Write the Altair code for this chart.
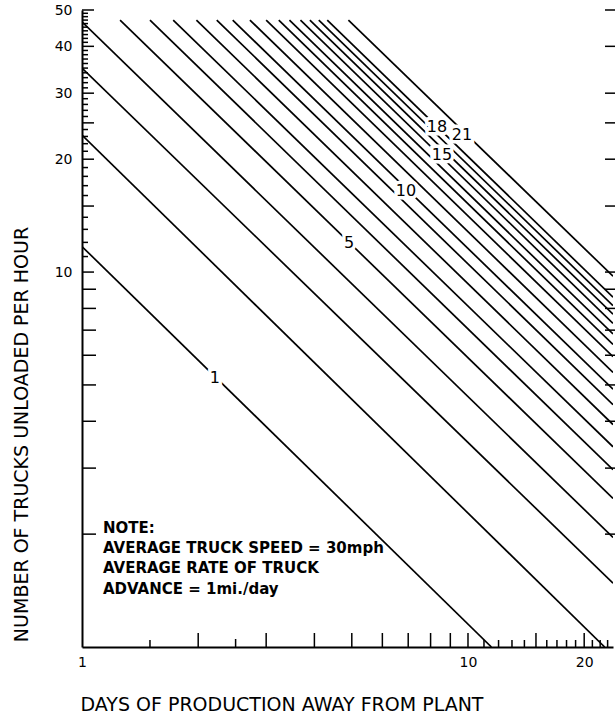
import altair as alt
import pandas as pd

FONT = "DejaVu Sans"

# ---- curve data: each family line drawn between two read-off endpoints ----
line_ids = ["1", "2", "3", "4", "5", "6", "7", "8", "9", "10",
            "11", "12", "13", "14", "15", "16", "17", "18", "21"]
x_start = [1.0, 1.0, 1.0, 1.0, 1.255, 1.50, 1.723, 1.979, 2.234, 2.457,
           2.723, 3.00, 3.234, 3.447, 3.681, 3.894, 4.106, 4.319, 4.90]
y_start = [11.7, 23.2, 35.0, 46.5, 47, 47, 47, 47, 47, 47,
           47, 47, 47, 47, 47, 47, 47, 47, 47]
x_end = [11.5, 22.6, 23.75, 23.75, 23.75, 23.75, 23.75, 23.75, 23.75, 23.75,
         23.75, 23.75, 23.75, 23.75, 23.75, 23.75, 23.75, 23.75, 23.75]
y_end = [1.0, 1.0, 1.48, 1.96, 2.49, 2.97, 3.42, 3.92, 4.43, 4.87,
         5.40, 5.95, 6.41, 6.84, 7.30, 7.72, 8.14, 8.57, 9.75]

# ---- curve labels ----
label_text = ["1", "5", "10", "15", "18", "21"]
label_x = [2.21, 4.92, 6.91, 8.56, 8.31, 9.65]
label_y = [5.21, 11.95, 16.5, 20.5, 24.4, 23.2]

# ---- note ----
note_lines = ["NOTE:", "AVERAGE TRUCK SPEED = 30mph", "AVERAGE RATE OF TRUCK", "ADVANCE = 1mi./day"]
note_x = [1.133, 1.133, 1.133, 1.133]
note_y = [2.077, 1.836, 1.624, 1.428]

# ---- axis ticks ----
y_label_values = [10, 20, 30, 40, 50]
x_label_values = [1, 10, 20]
left_long = [2, 3, 4, 5, 6, 7, 8, 9]
left_major = [10, 15, 20, 25, 30, 40, 50]
left_minor = [11, 12, 13, 14, 16, 17, 18, 19, 21, 22, 23, 24, 26, 27, 28, 29,
              31, 32, 33, 34, 35, 36, 37, 38, 39, 41, 42, 43, 44, 45, 46, 47, 48, 49]
right_ticks = [2, 3, 4, 5, 6, 7, 8, 9, 10, 15, 20, 25, 30, 40, 50]
bottom_long = [2, 3, 4, 5, 6, 7, 8, 9, 10, 15, 20]
bottom_mid = [2.5]
bottom_short = [1.5, 11, 12, 13, 14, 16, 17, 18, 19, 21, 22, 23]

W, H = 531, 637
X_TITLE = "DAYS OF PRODUCTION AWAY FROM PLANT"
Y_TITLE = "NUMBER OF TRUCKS UNLOADED PER HOUR"

xscale = alt.Scale(type="log", domain=[1, 23.75], nice=False)
yscale = alt.Scale(type="log", domain=[1, 50], nice=False)

X_AX = alt.Axis(values=x_label_values, format="d", ticks=False, grid=False,
                domain=True, domainColor="black", domainWidth=2,
                labelFont=FONT, labelFontSize=14, labelColor="black",
                labelPadding=8, labelFlush=False,
                title=X_TITLE, titleFont=FONT, titleFontSize=19, titleFontWeight="normal",
                titleColor="black", titleAlign="left", titleAnchor="start",
                titleX=-2, titleY=63, titleBaseline="alphabetic")
Y_AX = alt.Axis(values=y_label_values, format="d", ticks=False, grid=False,
                domain=True, domainColor="black", domainWidth=2,
                labelFont=FONT, labelFontSize=14, labelColor="black",
                labelPadding=10, labelFlush=False,
                title=Y_TITLE, titleFont=FONT, titleFontSize=19, titleFontWeight="normal",
                titleColor="black", titleX=-55, titleY=424,
                titleAlign="center", titleBaseline="alphabetic")


def X(field="x"):
    return alt.X(f"{field}:Q", scale=xscale, axis=X_AX, title=X_TITLE)


def Y(field="y"):
    return alt.Y(f"{field}:Q", scale=yscale, axis=Y_AX, title=Y_TITLE)


rows = []
for i, lid in enumerate(line_ids):
    rows.append({"line": lid, "x": x_start[i], "y": y_start[i], "o": 0})
    rows.append({"line": lid, "x": x_end[i], "y": y_end[i], "o": 1})
lines_df = pd.DataFrame(rows)

lines = alt.Chart(lines_df).mark_line(color="black", strokeWidth=1.7, clip=True).encode(
    x=X(), y=Y(), detail="line:N", order="o:Q")


def yrule(vals, x0, x1):
    return alt.Chart(pd.DataFrame({"y": vals})).mark_rule(color="black", strokeWidth=1.5).encode(
        y=Y(), x=alt.value(x0), x2=alt.value(x1))


def xrule(vals, length):
    return alt.Chart(pd.DataFrame({"x": vals})).mark_rule(color="black", strokeWidth=1.5).encode(
        x=X(), y=alt.value(H), y2=alt.value(H - length))


ticks = [
    yrule(left_long, 0, 14),
    yrule(left_major, 0, 12),
    yrule(left_minor, 0, 6),
    yrule(right_ticks, W - 8, W + 2),
    xrule(bottom_long, 14),
    xrule(bottom_mid, 8),
    xrule(bottom_short, 7),
]

lab_df = pd.DataFrame({"t": label_text, "x": label_x, "y": label_y})
halo = alt.Chart(lab_df).mark_text(font=FONT, fontSize=16, color="white", stroke="white",
                                   strokeWidth=7, align="center", baseline="middle").encode(
    x=X(), y=Y(), text="t:N")
labels = alt.Chart(lab_df).mark_text(font=FONT, fontSize=16, color="black",
                                     align="center", baseline="middle").encode(
    x=X(), y=Y(), text="t:N")

note_df = pd.DataFrame({"t": note_lines, "x": note_x, "y": note_y})
note = alt.Chart(note_df).mark_text(font=FONT, fontSize=15, fontWeight="bold", color="black",
                                    align="left", baseline="middle").encode(
    x=X(), y=Y(), text="t:N")

chart = alt.layer(lines, *ticks, halo, labels, note).properties(
    width=W, height=H,
    autosize=alt.AutoSizeParams(type="none"),
    padding={"left": 82, "top": 10, "right": 2, "bottom": 69},
    background="white",
).configure_view(stroke=None)

chart.save("out.html", embed_options={"renderer": "svg", "actions": False})
